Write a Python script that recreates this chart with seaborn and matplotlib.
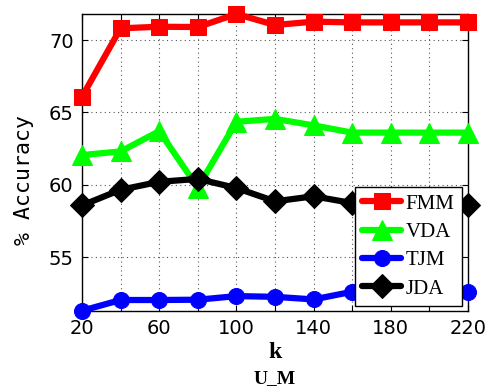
import matplotlib
matplotlib.use("Agg")
import matplotlib.pyplot as plt
import seaborn as sns
import pandas as pd

k = [20, 40, 60, 80, 100, 120, 140, 160, 180, 200, 220]
fmm = [66.08, 70.81, 70.92, 70.9, 71.8, 71.04, 71.27, 71.22, 71.22, 71.22, 71.22]
vda = [62.05, 62.3, 63.7, 59.8, 64.35, 64.55, 64.1, 63.6, 63.6, 63.6, 63.6]
tjm = [51.29, 52.03, 52.03, 52.05, 52.3, 52.25, 52.07, 52.6, 52.6, 52.55, 52.55]
jda = [58.57, 59.65, 60.2, 60.4, 59.77, 58.85, 59.2, 58.73, 58.65, 58.65, 58.62]
series = ["FMM", "VDA", "TJM", "JDA"]
colors = ["#ff0000", "#00ff00", "#0000ff", "#000000"]
markers = ["s", "^", "o", "D"]
msizes = [12, 15, 11.5, 12]
xtick_labels = ["20", "", "60", "", "100", "", "140", "", "180", "", "220"]

sns.set_style("white")
plt.rcParams["text.color"] = "black"

fig = plt.figure(figsize=(4.86, 3.91), dpi=100)
ax = fig.add_axes([82/486, 1-311/391, 386/486, 297/391])

for name, vals, c, m, ms in zip(series, [fmm, vda, tjm, jda], colors, markers, msizes):
    df = pd.DataFrame({"k": k, "acc": vals})
    sns.lineplot(data=df, x="k", y="acc", ax=ax, color=c, marker=m, markersize=ms,
                 linewidth=4.5, markeredgecolor=c, label=name, clip_on=False, zorder=3)

ax.set_xlim(20, 220)
ax.set_ylim(51.27, 71.8)
ax.set_xticks(k)
ax.set_xticklabels(xtick_labels)
ax.set_yticks([55, 60, 65, 70])
ax.tick_params(direction="in", length=4, width=0.8, labelsize=14, pad=6,
               top=True, right=True, bottom=True, left=True,
               labelcolor="black", color="black")
ax.grid(True, linestyle=(0, (1, 3)), color="#555555", linewidth=0.8)
for s in ax.spines.values():
    s.set_visible(True)
    s.set_color("black")
    s.set_linewidth(1.0)

ax.set_ylabel("% Accuracy", family="DejaVu Sans Mono", fontsize=15.5, color="black")
ax.yaxis.set_label_coords(-0.125, 0.441)
ax.set_xlabel("k", family="Liberation Serif", fontweight="bold", fontsize=17,
              color="black", labelpad=3)
fig.text(0.5 * (82 + 468) / 486, 1 - 379/391, "U_M", family="Liberation Serif",
         fontweight="bold", fontsize=14, ha="center", va="center", color="black")

leg = ax.legend(loc="lower right", bbox_to_anchor=(0.984, 0.017), borderaxespad=0,
                prop={"family": "Liberation Serif", "size": 15}, frameon=True,
                fancybox=False, edgecolor="black", framealpha=1, handlelength=1.9,
                labelspacing=0.42, borderpad=0.35, handletextpad=0.2,
                labelcolor="black")
leg.get_frame().set_linewidth(1.0)
leg.set_zorder(5)

fig.savefig("out.png", dpi=100)
